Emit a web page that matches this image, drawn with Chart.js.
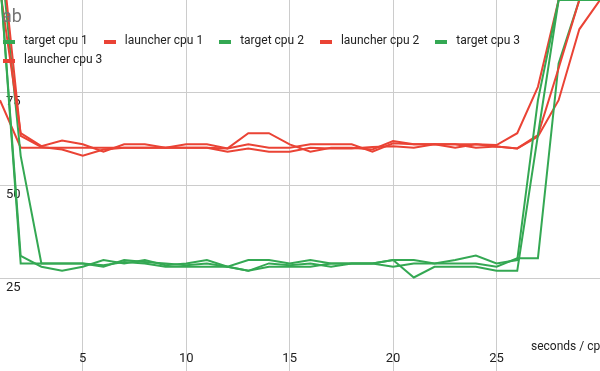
<!DOCTYPE html>
<html>
<head>
<meta charset="utf-8">
<script src="https://cdn.jsdelivr.net/npm/chart.js@4/dist/chart.umd.min.js"></script>
<style>
  body { margin: 0; overflow: hidden; background: #fff; font-family: Roboto, sans-serif; }
  #wrap { position: relative; width: 600px; height: 371px; overflow: hidden; }
  #titulo { position: absolute; left: 2px; top: 7px; font-size: 18px; line-height: 18px; color: #757575; }
  #leyenda { position: absolute; left: 3px; top: 32px; width: 597px; display: flex; flex-wrap: wrap; row-gap: 2.5px; column-gap: 16px; }
  .item { display: flex; align-items: flex-start; font-size: 12px; line-height: 16px; color: #222; white-space: nowrap; }
  .marca { width: 12px; height: 4px; margin-top: 8px; margin-right: 9px; }
  #ejeX { position: absolute; left: 531px; top: 338px; font-size: 12px; line-height: 16px; color: #222; white-space: nowrap; }
</style>
</head>
<body>
<div id="wrap">
  <canvas id="grafico"></canvas>
  <div id="titulo">ab</div>
  <div id="leyenda"></div>
  <div id="ejeX">seconds / cpu</div>
</div>
<script>
var segundos = [1, 2, 3, 4, 5, 6, 7, 8, 9, 10, 11, 12, 13, 14, 15, 16, 17, 18, 19, 20, 21, 22, 23, 24, 25, 26, 27, 28, 29, 30];
var ticksX = [5, 10, 15, 20, 25];
var ticksY = [25, 50, 75];

var targetCpu1 = [106, 31.0, 28.1, 27.0, 28.1, 29.9, 29.0, 29.9, 28.5, 29.0, 29.9, 28.1, 29.9, 29.9, 29.0, 29.9, 29.0, 29.0, 29.0, 29.9, 29.9, 29.0, 29.9, 31.1, 29.0, 29.9, 73, 100, 100, 100];
var launcherCpu1 = [103, 64.1, 60.6, 62.1, 61.1, 59.1, 61.1, 61.1, 60.2, 61.1, 61.1, 60.0, 64.1, 64.1, 61.1, 59.1, 60.2, 60.2, 59.7, 62.0, 61.1, 61.1, 61.1, 61.1, 60.9, 64.1, 76.6, 100, 100, 100];
var targetCpu2 = [106, 29.0, 29.0, 29.0, 29.0, 28.1, 29.9, 29.4, 29.0, 28.5, 29.0, 28.1, 27.0, 29.0, 28.5, 29.0, 28.1, 29.0, 29.0, 29.9, 25.2, 28.1, 28.1, 28.1, 27.0, 27.0, 63.6, 100, 100, 100];
var launcherCpu2 = [117, 63.4, 60.4, 59.7, 58.0, 59.7, 60.2, 60.2, 60.2, 60.2, 60.2, 60.0, 61.1, 60.2, 60.2, 61.1, 61.1, 61.1, 59.1, 61.4, 61.1, 61.1, 61.1, 60.2, 60.5, 60.0, 63.6, 81.6, 100, 100];
var targetCpu3 = [114, 58, 29.0, 29.0, 29.0, 28.5, 29.4, 29.0, 28.1, 28.1, 28.1, 28.1, 27.0, 28.1, 28.1, 28.1, 29.0, 29.0, 29.0, 28.1, 29.0, 29.0, 29.0, 29.0, 28.1, 30.4, 30.4, 82.9, 100, 100];
var launcherCpu3 = [73, 60.2, 60.2, 60.2, 60.2, 60.2, 60.2, 60.2, 60.2, 60.2, 60.2, 59.1, 60.0, 59.1, 59.1, 60.2, 60.0, 60.0, 60.4, 60.6, 60.2, 61.1, 60.2, 61.1, 60.5, 60.0, 63.2, 73, 92.1, 100];

var verde = '#34a853';
var rojo = '#ea4335';

var series = [
    { label: 'target cpu 1', data: targetCpu1, color: verde },
    { label: 'launcher cpu 1', data: launcherCpu1, color: rojo },
    { label: 'target cpu 2', data: targetCpu2, color: verde },
    { label: 'launcher cpu 2', data: launcherCpu2, color: rojo },
    { label: 'target cpu 3', data: targetCpu3, color: verde },
    { label: 'launcher cpu 3', data: launcherCpu3, color: rojo }
];

// leyenda en html, encima del area del grafico
var leyenda = document.getElementById('leyenda');
series.forEach(function(s) {
    var item = document.createElement('div');
    item.className = 'item';
    var marca = document.createElement('span');
    marca.className = 'marca';
    marca.style.background = s.color;
    item.appendChild(marca);
    item.appendChild(document.createTextNode(s.label));
    leyenda.appendChild(item);
});

// los ejes no ocupan sitio: etiquetas dentro del area del grafico
function sinEspacio(scale) {
    if (scale.isHorizontal()) {
        scale.height = 0;
    } else {
        scale.width = 0;
    }
    scale.paddingTop = 0;
    scale.paddingBottom = 0;
    scale.paddingLeft = 0;
    scale.paddingRight = 0;
}

var ctx = document.getElementById('grafico').getContext('2d');

var grafico = new Chart(ctx, {
    type: 'line',
    data: {
        datasets: series.map(function(s) {
            return {
                label: s.label,
                data: segundos.map(function(x, i) { return { x: x, y: s.data[i] }; }),
                borderColor: s.color,
                backgroundColor: s.color,
                borderWidth: 2,
                pointRadius: 0,
                tension: 0,
                fill: false
            };
        })
    },
    options: {
        responsive: true,
        maintainAspectRatio: false,
        animation: false,
        layout: { padding: 0 },
        plugins: {
            legend: { display: false },
            title: { display: false },
            tooltip: { enabled: false }
        },
        scales: {
            x: {
                type: 'linear',
                min: 1,
                max: 30,
                border: { display: false },
                grid: { color: '#cccccc', drawTicks: false },
                afterBuildTicks: function(scale) {
                    scale.ticks = ticksX.map(function(v) { return { value: v }; });
                },
                afterFit: sinEspacio,
                ticks: {
                    mirror: true,
                    padding: 4,
                    color: '#222',
                    font: { family: 'Roboto', size: 13 },
                    maxRotation: 0
                }
            },
            y: {
                min: 0,
                max: 100,
                border: { display: false },
                grid: { color: '#cccccc', drawTicks: false },
                afterBuildTicks: function(scale) {
                    scale.ticks = ticksY.map(function(v) { return { value: v }; });
                },
                afterFit: sinEspacio,
                ticks: {
                    mirror: true,
                    padding: 6,
                    labelOffset: 9,
                    color: '#222',
                    font: { family: 'Roboto', size: 13 }
                }
            }
        }
    }
});
</script>
</body>
</html>
